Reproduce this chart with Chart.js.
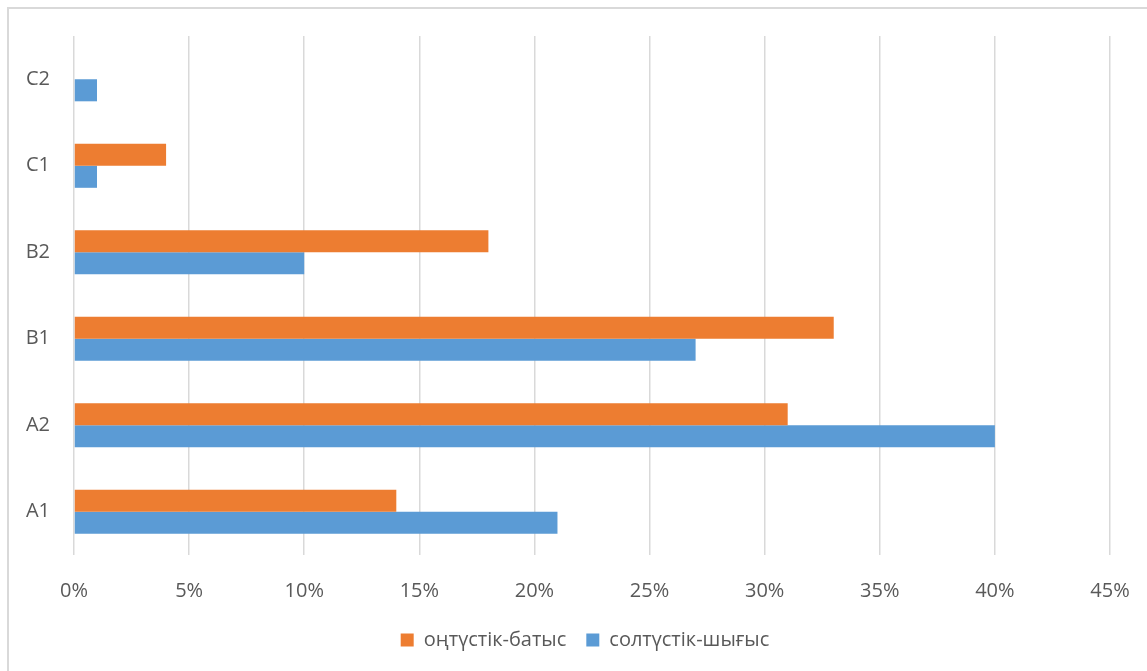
<!DOCTYPE html>
<html>
<head>
<meta charset="utf-8">
<script src="https://cdn.jsdelivr.net/npm/chart.js@4"></script>
<style>
  html, body { margin: 0; padding: 0; background: #fff; }
  #wrap { position: absolute; left: 0; top: 0; width: 1147px; height: 671px; }
  #frame { position: absolute; left: 7px; top: 7px; right: 0; bottom: 0; border-left: 2px solid #d9d9d9; border-top: 2px solid #d9d9d9; }
</style>
</head>
<body>
<div id="frame"></div>
<div id="wrap"><canvas id="chart"></canvas></div>
<script>
const levels = ["A1", "A2", "B1", "B2", "C1", "C2"];
const southWest = [14, 31, 33, 18, 4, 0];
const northEast = [21, 40, 27, 10, 1, 1];
const seriesNames = ["оңтүстік-батыс", "солтүстік-шығыс"];

const textColor = "#595959";
const fontFamily = "'Open Sans', 'Noto Sans', sans-serif";
const padBottom = 11;

// the legend in the original sits a bit right of centre
const shiftLegend = {
  id: "shiftLegend",
  afterLayout(chart) {
    chart.legend.left += 30;
    chart.legend.right += 30;
  }
};

new Chart(document.getElementById("chart"), {
  type: "bar",
  data: {
    labels: levels,
    datasets: [
      { label: seriesNames[0], data: southWest, backgroundColor: "#ED7D31" },
      { label: seriesNames[1], data: northEast, backgroundColor: "#5B9BD5" }
    ]
  },
  options: {
    indexAxis: "y",
    responsive: true,
    maintainAspectRatio: false,
    animation: false,
    categoryPercentage: 0.51,
    barPercentage: 1,
    layout: { padding: { top: 36, right: 37, left: 0, bottom: padBottom } },
    scales: {
      x: {
        min: 0,
        max: 45,
        ticks: {
          stepSize: 5,
          color: textColor,
          padding: 24,
          maxRotation: 0,
          font: { family: fontFamily, size: 20 },
          callback: v => v + "%"
        },
        grid: { color: "#d9d9d9", lineWidth: 1.5, drawTicks: false },
        border: { display: false },
        afterFit(scale) {
          scale.height = 671 - 555 - scale.chart.legend.height - padBottom;
          scale.paddingRight = 0;
          scale.paddingLeft = 0;
        }
      },
      y: {
        reverse: true,
        ticks: {
          color: textColor,
          padding: 24,
          font: { family: fontFamily, size: 20 }
        },
        grid: { display: false, drawTicks: false },
        border: { display: false },
        afterFit(scale) {
          scale.width = 74;
        }
      }
    },
    plugins: {
      legend: {
        position: "bottom",
        labels: {
          color: textColor,
          boxWidth: 13,
          boxHeight: 13,
          padding: 20,
          font: { family: fontFamily, size: 20 }
        }
      },
      tooltip: { enabled: false }
    }
  },
  plugins: [shiftLegend]
});
</script>
</body>
</html>
